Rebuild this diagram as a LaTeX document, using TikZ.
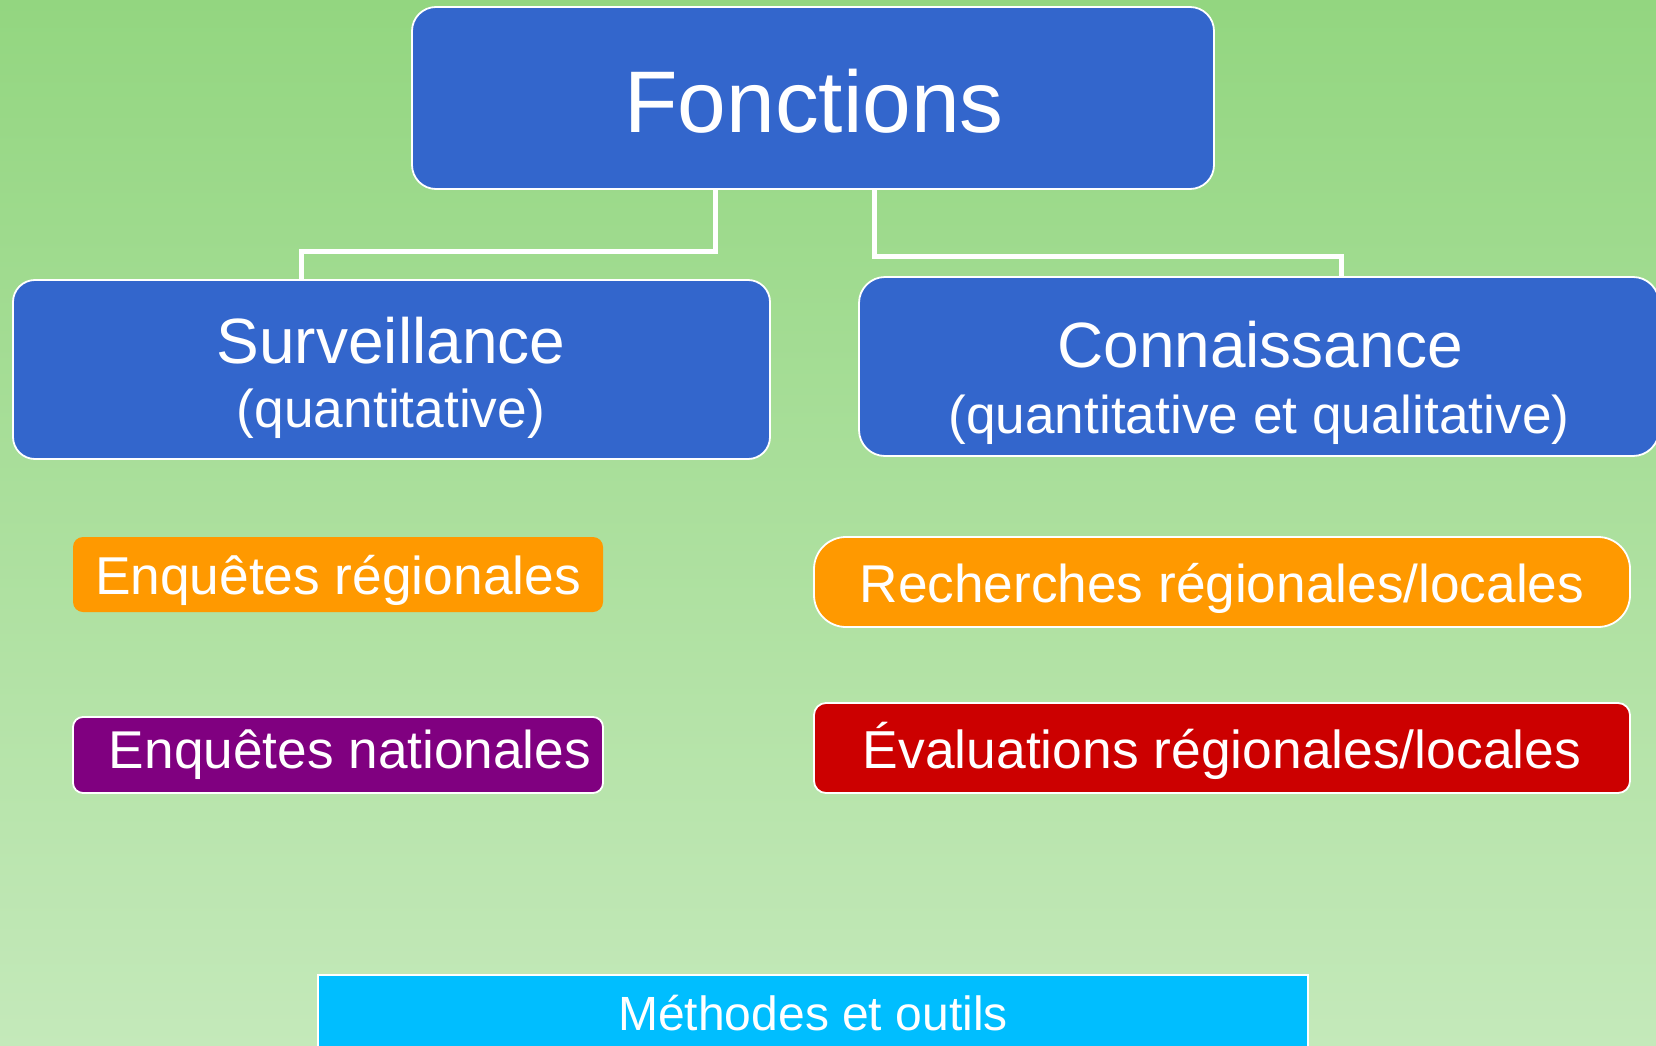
\documentclass[tikz,border=0pt]{standalone}
\usepackage{fontspec}
\setmainfont{Liberation Sans}
\usetikzlibrary{calc}
\definecolor{bgtop}{RGB}{147,214,128}
\definecolor{bgbot}{RGB}{196,233,186}
\definecolor{boxblue}{RGB}{51,102,204}
\definecolor{boxorange}{RGB}{255,153,0}
\definecolor{boxpurple}{RGB}{128,0,128}
\definecolor{boxred}{RGB}{204,0,0}
\definecolor{boxcyan}{RGB}{0,190,255}
\begin{document}
\begin{tikzpicture}[x=1pt,y=-1pt,
  box/.style={draw=white, line width=1.8pt, inner sep=0pt, rounded corners=#1},
  box/.default=20pt,
  conn/.style={draw=white, line width=5pt},
  txt/.style={text=white, anchor=base, inner sep=0pt},
]
\useasboundingbox (0,0) rectangle (1656,1046);
\shade[top color=bgtop, bottom color=bgbot] (0,0) rectangle (1656,1046);
\clip (0,0) rectangle (1656,1046);

% boxes
\node[box=24pt, fill=boxblue, minimum width=802pt, minimum height=182pt] (fonc) at (813,98) {};
\node[box=22pt, fill=boxblue, minimum width=757pt, minimum height=179pt] (surv) at (391.5,369.5) {};
\node[box=26pt, fill=boxblue, minimum width=800pt, minimum height=179pt] (conn) at (1259,366.5) {};
\node[box=10pt, draw=none, fill=boxorange, minimum width=530pt, minimum height=75pt] (enqreg) at (338,574.5) {};
\node[box=10pt, fill=boxpurple, minimum width=530pt, minimum height=76pt] (enqnat) at (338,755) {};
\node[box=32pt, fill=boxorange, minimum width=816pt, minimum height=90pt] (rech) at (1222,582) {};
\node[box=12pt, fill=boxred, minimum width=816pt, minimum height=90pt] (eval) at (1222,748) {};
\node[box=0pt, fill=boxcyan, minimum width=990pt, minimum height=110pt] (meth) at (813,1030) {};

% connectors
\draw[conn] ([xshift=-98pt]fonc.south) -- ++(0,62) -| ([xshift=-90.5pt]surv.north);
\draw[conn] ([xshift=61pt]fonc.south) -- ++(0,67) -| ([xshift=82pt]conn.north);

% texts
\node[txt, font=\fontsize{87.5}{87.5}\selectfont] (tfonc) at (814,132) {Fonctions};
\node[txt, font=\fontsize{64}{64}\selectfont] (tsurv) at (391,363) {Surveillance};
\node[txt, font=\fontsize{53.3}{53.3}\selectfont] (tsurvq) at (391,427) {(quantitative)};
\node[txt, font=\fontsize{64}{64}\selectfont] (tconn) at (1260,367) {Connaissance};
\node[txt, font=\fontsize{53.2}{53.2}\selectfont] (tconnq) at (1259,433) {(quantitative et qualitative)};
\node[txt, font=\fontsize{53.3}{53.3}\selectfont] (tenqreg) at (338,594) {Enquêtes régionales};
\node[txt, font=\fontsize{53.2}{53.2}\selectfont] (tenqnat) at (350,768) {Enquêtes nationales};
\node[txt, font=\fontsize{53.2}{53.2}\selectfont] (trech) at (1222,602) {Recherches régionales/locales};
\node[txt, font=\fontsize{53.4}{53.4}\selectfont] (teval) at (1222,768) {Évaluations régionales/locales};
\node[txt, font=\fontsize{48}{48}\selectfont] (tmeth) at (813,1030) {Méthodes et outils};
\end{tikzpicture}
\end{document}
